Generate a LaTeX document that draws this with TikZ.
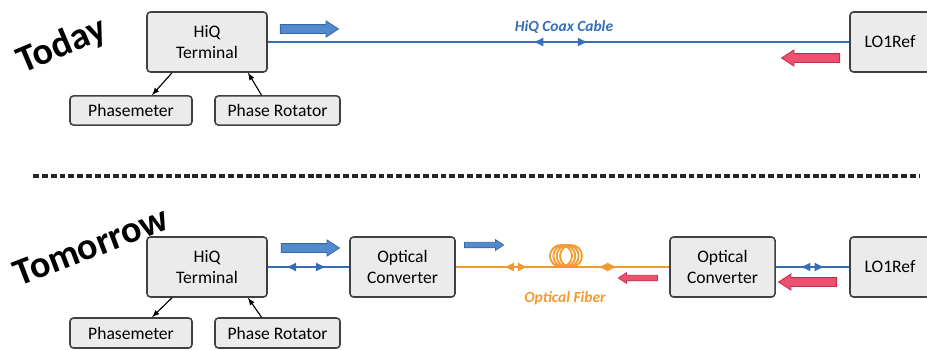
\documentclass[tikz,border=0pt]{standalone}
\usepackage{fontspec}
\setmainfont{Carlito}
\usetikzlibrary{positioning,calc,shapes.arrows,decorations.markings,arrows.meta}

\definecolor{boxgray}{RGB}{235,235,235}
\definecolor{boxedge}{RGB}{64,64,64}
\definecolor{cableblue}{RGB}{52,110,184}
\definecolor{flowblue}{RGB}{82,138,204}
\definecolor{flowblueedge}{RGB}{55,102,172}
\definecolor{flowred}{RGB}{236,82,112}
\definecolor{flowrededge}{RGB}{196,44,74}
\definecolor{fiberorange}{RGB}{242,154,50}

\tikzset{
  unit/.style={draw=boxedge, fill=boxgray, line width=1.1pt, rounded corners=2.5pt,
    align=center, inner sep=0pt, font=\fontsize{12.5}{15}\selectfont},
  bigflow/.style={single arrow, inner xsep=0pt, inner ysep=0.1cm, line width=0.6pt,
    minimum height=1.45cm, single arrow head extend=0.09cm, single arrow tip angle=66},
  smallflow/.style={single arrow, inner xsep=0pt, inner ysep=0.06cm, line width=0.5pt,
    minimum height=0.98cm, single arrow head extend=0.065cm, single arrow tip angle=66},
  blueflow/.style={fill=flowblue, draw=flowblueedge},
  redflow/.style={fill=flowred, draw=flowrededge, shape border rotate=180},
  bidir/.style 2 args={postaction={decorate, decoration={markings,
      mark=at position #1 with {\arrowreversed{Latex[length=2.6mm,width=2.3mm]}},
      mark=at position #2 with {\arrow{Latex[length=2.6mm,width=2.3mm]}}}}},
  daylabel/.style={font=\fontsize{27}{30}\selectfont\bfseries, inner sep=0pt},
  cablelabel/.style={font=\fontsize{11}{13}\selectfont\bfseries\itshape, inner sep=0pt}
}

\begin{document}
\begin{tikzpicture}[x=0.025cm, y=-0.025cm]
\useasboundingbox (0,0) rectangle (927,349);

%today
\node[daylabel, rotate=23] (today) at (62,46) {Today};

\node[unit, minimum width=3cm, minimum height=1.5cm] (hiqA) at (207,42) {HiQ\\Terminal};
\node[unit, minimum width=3.05cm, minimum height=0.73cm] (phmA) at (131,110.5) {Phasemeter};
\node[unit, minimum width=3.125cm, minimum height=0.73cm] (phrA) at (277.5,110.5) {Phase Rotator};
\node[unit, minimum width=2cm, minimum height=1.5cm] (loA) at (890,42) {LO1Ref};

\draw[->,>=latex, line width=0.8pt] ($(hiqA.south)+(-35,0)$) to ($(phmA.north)+(21,0)$);
\draw[->,>=latex, line width=0.8pt] ($(phrA.north)+(-16,0)$) to ($(hiqA.south)+(41,0)$);

\draw[cableblue, line width=1.8pt, bidir={0.456}{0.551}] (hiqA.east) -- (loA.west);
\node[cablelabel, text=cableblue] (coaxlbl) at (564,27) {HiQ Coax Cable};

\node[bigflow, blueflow] (txA) at (306,29) {};
\node[bigflow, redflow] (rxA) at (814,58) {};

%separator
\coordinate (sepL) at (33,176);
\coordinate (sepR) at (919,176);
\draw[line width=2.2pt, black!85, dash pattern=on 4.2pt off 2.1pt] (sepL) -- (sepR);

%tomorrow
\node[daylabel, rotate=21] (tomorrow) at (91,246) {Tomorrow};

\node[unit, minimum width=3cm, minimum height=1.5cm] (hiqB) at (207,267) {HiQ\\Terminal};
\node[unit, minimum width=3.05cm, minimum height=0.75cm] (phmB) at (131,333) {Phasemeter};
\node[unit, minimum width=3.125cm, minimum height=0.75cm] (phrB) at (277.5,333) {Phase Rotator};
\node[unit, minimum width=2.625cm, minimum height=1.5cm] (ocA) at (402.5,267) {Optical\\Converter};
\node[unit, minimum width=2.625cm, minimum height=1.5cm] (ocB) at (722.5,267) {Optical\\Converter};
\node[unit, minimum width=2cm, minimum height=1.5cm] (loB) at (890,267) {LO1Ref};

\draw[->,>=latex, line width=0.8pt] ($(hiqB.south)+(-35,0)$) to ($(phmB.north)+(21,0)$);
\draw[->,>=latex, line width=0.8pt] ($(phrB.north)+(-16,0)$) to ($(hiqB.south)+(41,0)$);

\draw[cableblue, line width=1.8pt, bidir={0.22}{0.72}] (hiqB.east) -- (ocA.west);
\draw[fiberorange, line width=1.8pt, bidir={0.223}{0.34}, bidir={0.665}{0.758}] (ocA.east) -- (ocB.west);
\draw[cableblue, line width=1.8pt, bidir={0.33}{0.67}] (ocB.east) -- (loB.west);

% fiber coil
\foreach \cx in {561,564.33,567.67,571}
  \draw[fiberorange, line width=1.3pt] (\cx,256) circle[radius=0.275cm];
\node[cablelabel, text=fiberorange] (fiberlbl) at (565,298) {Optical Fiber};

\node[bigflow, blueflow] (txB) at (307,248) {};
\node[smallflow, blueflow] (txC) at (482,245) {};
\node[smallflow, redflow] (rxC) at (640,278) {};
\node[bigflow, redflow] (rxB) at (811,282) {};

\end{tikzpicture}
\end{document}
